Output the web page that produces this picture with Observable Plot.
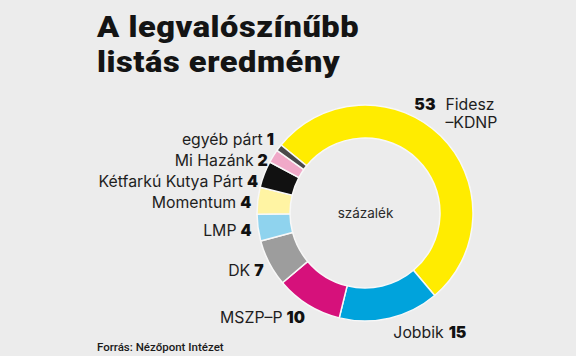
<!DOCTYPE html>
<html>
<head>
<meta charset="utf-8">
<script src="https://cdn.jsdelivr.net/npm/d3@7"></script>
<script src="https://cdn.jsdelivr.net/npm/@observablehq/plot@0.6"></script>
<style>
  html, body { margin: 0; padding: 0; background: #ececec; }
  #wrap { position: relative; width: 576px; height: 356px; overflow: hidden; background: #ececec; }
  #title { position: absolute; left: 97px; top: 10px; font-family: Roboto, "Liberation Sans", sans-serif; font-weight: 900; font-size: 29.5px; letter-spacing: 0.5px; color: #141414; white-space: nowrap; transform: scaleX(1.105); transform-origin: 0 0; }
  #title div { height: 35px; line-height: 35px; }
  #chart { position: absolute; left: 0; top: 0; }
  #source { position: absolute; left: 97px; top: 340px; font-family: Roboto, sans-serif; font-weight: 500; font-size: 11.5px; line-height: 14px; color: #1a1a1a; white-space: nowrap; }
</style>
</head>
<body>
<div id="wrap">
  <div id="chart"></div>
  <div id="title"></div>
  <div id="source"></div>
</div>
<script>
// ---- data ----
const titleLines = ["A legvalószínűbb", "listás eredmény"];
const sourceText = "Forrás: Nézőpont Intézet";
const centerText = "százalék";
const parties = ["Fidesz\n–KDNP", "Jobbik", "MSZP–P", "DK", "LMP", "Momentum", "Kétfarkú Kutya Párt", "Mi Hazánk", "egyéb párt"];
const shares = [53, 15, 10, 7, 4, 4, 4, 2, 1];
const colors = ["#ffec00", "#00a3dc", "#d6117b", "#9d9d9d", "#8fd3ee", "#fff4a3", "#111111", "#f0a9c8", "#4a4a4a"];

// ---- layout ----
const W = 576, H = 356;
const CX = 365, CY = 213, R_OUT = 108, R_IN = 75;
const START = -51 * Math.PI / 180;
const FONT = "Inter, Roboto, sans-serif";
const FS = 15.8, LH = 1.13;

const titleEl = document.getElementById("title");
titleLines.forEach(t => { const d = document.createElement("div"); d.textContent = t; titleEl.appendChild(d); });
document.getElementById("source").textContent = sourceText;

const rows = parties.map((p, i) => ({name: p, value: shares[i], color: colors[i]}));
const arcs = d3.pie().sort(null).value(d => d.value).startAngle(START).endAngle(START + 2 * Math.PI)(rows);

const ctx = document.createElement("canvas").getContext("2d");
function tw(text, weight) {
  ctx.font = `${weight} ${FS}px ${FONT}`;
  return d3.max(text.split("\n"), t => ctx.measureText(t).width);
}

const names = [], nums = [];
const left = [];
arcs.forEach(a => {
  const m = (a.startAngle + a.endAngle) / 2, s = Math.sin(m), c = Math.cos(m);
  const num = String(a.data.value);
  if (s < 0) {
    left.push({a, x: CX + (R_OUT + 7) * s, y: CY - (R_OUT + 14) * c, num});
  } else if (c > 0) {
    // upper right: block bottom-centred on the radial point
    const px = CX + (R_OUT + 14) * s + 5, py = CY - (R_OUT + 14) * c + 5;
    const wn = tw(num, 900), wt = tw(a.data.name, 400);
    const x0 = px - (wn + 10 + wt) / 2;
    const lh = FS * LH;
    nums.push({x: x0, y: py - 1.5 * lh, t: num, anchor: "start"});
    names.push({x: x0 + wn + 10, y: py - lh, t: a.data.name, anchor: "start"});
  } else {
    const px = CX + (R_OUT + 14) * s, py = CY - (R_OUT + 14) * c;
    const wt = tw(a.data.name, 400);
    names.push({x: px, y: py, t: a.data.name, anchor: "start"});
    nums.push({x: px + wt + 5, y: py, t: num, anchor: "start"});
  }
});
left.sort((p, q) => p.y - q.y);
for (let i = 1; i < left.length; i++) left[i].y = Math.max(left[i].y, left[i - 1].y + 21);
left.forEach(l => {
  const wn = tw(l.num, 900);
  nums.push({x: l.x, y: l.y, t: l.num, anchor: "end"});
  names.push({x: l.x - wn - 4, y: l.y, t: l.a.data.name, anchor: "end"});
});

function donut(index, scales) {
  const cx = scales.x(CX), cy = scales.y(CY);
  const k = scales.x(CX + 1) - cx;
  const gen = d3.arc().innerRadius(R_IN * k).outerRadius(R_OUT * k);
  const g = d3.create("svg:g").attr("transform", `translate(${cx},${cy})`);
  g.selectAll("path").data(arcs).join("path")
    .attr("d", gen)
    .attr("fill", d => d.data.color)
    .attr("stroke", "#f8f8f8")
    .attr("stroke-width", 1.5)
    .attr("stroke-linejoin", "round");
  return g.node();
}

const textOpts = {x: "x", y: "y", text: "t", fontFamily: FONT, fontSize: FS, lineHeight: LH, lineAnchor: "middle", fill: "#1e1e1e"};

const chart = Plot.plot({
  width: W, height: H,
  margin: 0,
  style: {background: "transparent", overflow: "visible"},
  x: {domain: [0, W], range: [0, W], axis: null},
  y: {domain: [0, H], range: [0, H], axis: null},
  marks: [
    donut,
    Plot.text([{x: CX, y: CY, t: centerText}], {...textOpts, fontSize: 13.5, fill: "#2a2a2a"}),
    Plot.text(names.filter(d => d.anchor === "end"), {...textOpts, textAnchor: "end"}),
    Plot.text(names.filter(d => d.anchor === "start"), {...textOpts, textAnchor: "start"}),
    Plot.text(nums.filter(d => d.anchor === "end"), {...textOpts, textAnchor: "end", fontWeight: 900, fill: "#111"}),
    Plot.text(nums.filter(d => d.anchor === "start"), {...textOpts, textAnchor: "start", fontWeight: 900, fill: "#111"})
  ]
});
document.getElementById("chart").appendChild(chart);
</script>
</body>
</html>
